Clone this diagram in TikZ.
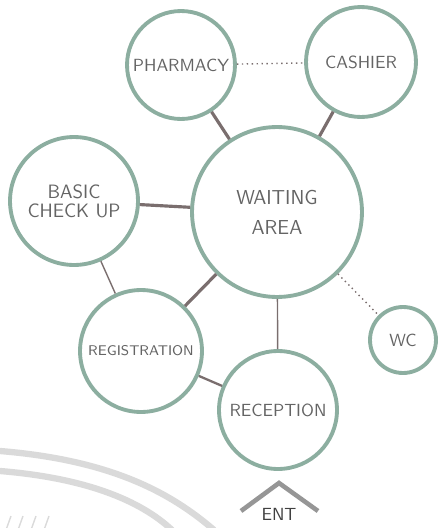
\documentclass[tikz,border=0pt]{standalone}
\usepackage{tikz}
\usetikzlibrary{arrows.meta,calc}
\usepackage{xcolor}
\definecolor{ringclr}{RGB}{140, 174, 160}
\definecolor{linkclr}{RGB}{122, 110, 110}
\definecolor{textclr}{RGB}{100, 100, 100}
\definecolor{bgarc}{RGB}{218, 218, 218}
\definecolor{entclr}{RGB}{150, 150, 150}
\tikzset{
  % Xona doiralari
  room/.style      = {circle, draw=ringclr, line width=2.2pt, fill=white,
                      inner sep=0pt, align=center, text=textclr, font=\sffamily},
  % Bog'lanish chiziqlari
  thicklink/.style = {draw=linkclr, line width=1.8pt},
  midlink/.style   = {draw=linkclr, line width=1.3pt},
  thinlink/.style  = {draw=linkclr, line width=0.8pt},
  dotlink/.style   = {draw=linkclr, line width=0.8pt, dotted},
  % Fon yoylari
  arcline/.style   = {draw=bgarc, line width=3.6pt},
}
\begin{document}
\begin{tikzpicture}[x=0.02cm, y=-0.02cm]
  \useasboundingbox (0,0) rectangle (440,528);
  % Fon yoylari
  \draw[arcline] (0,451) .. controls (110,460) and (170,492) .. (214,530);
  \draw[arcline] (0,471) .. controls (85,478) and (140,500) .. (172,530);
  \foreach \xx in {6,18,31,44}
    \draw[bgarc, line width=0.8pt] (\xx,530) -- (\xx+5,516);
  % Xonalar
  \node[room, minimum size=2.16cm, font=\sffamily\fontsize{10}{12}\selectfont]
    (pharmacy) at (181,65) {PHARMACY};
  \node[room, minimum size=2.2cm, font=\sffamily\fontsize{10}{12}\selectfont]
    (cashier) at (361,62) {CASHIER};
  \node[room, minimum size=3.4cm, font=\sffamily\fontsize{11.5}{17}\selectfont]
    (waiting) at (277,212) {WAITING\\AREA};
  \node[room, minimum size=2.56cm, font=\sffamily\fontsize{11}{11}\selectfont]
    (basic) at (74,201) {BASIC\\CHECK UP};
  \node[room, minimum size=2.44cm, font=\sffamily\fontsize{8}{10}\selectfont]
    (registration) at (141,351) {REGISTRATION};
  \node[room, minimum size=2.36cm, font=\sffamily\fontsize{10}{12}\selectfont]
    (reception) at (278,410) {RECEPTION};
  \node[room, minimum size=1.32cm, font=\sffamily\fontsize{10}{12}\selectfont]
    (wc) at (403,340) {WC};
  % Bog'lanishlar
  \draw[dotlink] (pharmacy) -- (cashier);
  \draw[thicklink] (pharmacy) -- (waiting);
  \draw[thicklink] (cashier) -- (waiting);
  \draw[thicklink] (basic) -- (waiting);
  \draw[thinlink] (basic) -- (registration);
  \draw[thicklink] (waiting) -- (registration);
  \draw[thinlink] (waiting) -- (reception);
  \draw[midlink] (registration) -- (reception);
  \draw[dotlink] (waiting) -- (wc);
  % Kirish
  \node[text=black!75, font=\sffamily\fontsize{10}{12}\selectfont]
    (ent) at (279,514) {ENT};
  \coordinate (entL) at (241,511);
  \coordinate (entT) at (279,483);
  \coordinate (entR) at (318,511);
  \draw[entclr, line width=2.6pt] (entL) -- (entT) -- (entR);
\end{tikzpicture}
\end{document}
